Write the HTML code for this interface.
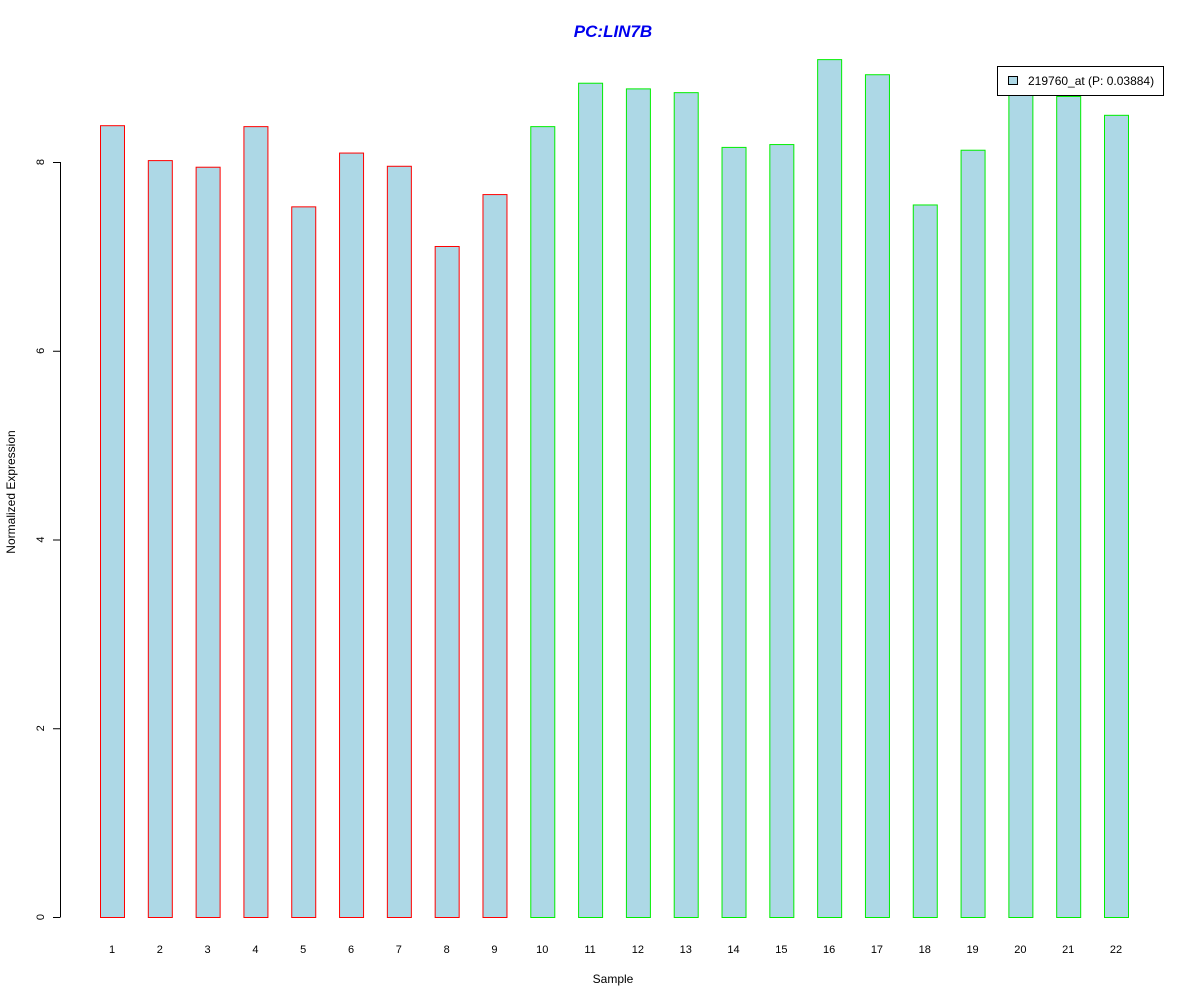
<!DOCTYPE html>
<html><head><meta charset="utf-8"><style>
html,body{margin:0;padding:0;background:#fff;}
svg{display:block;font-family:"Liberation Sans",Arial,sans-serif;}
</style></head><body>
<svg id="chart" width="1200" height="1000" viewBox="0 0 1200 1000">
<text x="613" y="37" text-anchor="middle" font-size="17" font-weight="bold" font-style="italic" fill="#0000ee">PC:LIN7B</text>
<text x="613" y="983" text-anchor="middle" font-size="12">Sample</text>
<text transform="translate(15,492) rotate(-90)" text-anchor="middle" font-size="12">Normalized Expression</text>
<g id="yaxis"></g>
<g id="bars"></g>
<g id="xlabels"></g>
<g>
<rect x="997.5" y="66.5" width="166" height="29" fill="#fff" stroke="#000"/>
<rect x="1008.5" y="76.5" width="9" height="8" fill="#add8e6" stroke="#000"/>
<text x="1028" y="85" font-size="12">219760_at (P: 0.03884)</text>
</g>
</svg>
<script>
const categories = ["1","2","3","4","5","6","7","8","9","10","11","12","13","14","15","16","17","18","19","20","21","22"];
const values = [8.39,8.02,7.95,8.38,7.53,8.10,7.96,7.11,7.66,8.38,8.84,8.78,8.74,8.16,8.19,9.09,8.93,7.55,8.13,8.80,8.70,8.50];
const groups = ["a","a","a","a","a","a","a","a","a","b","b","b","b","b","b","b","b","b","b","b","b","b"];
const yTicks = [0,2,4,6,8];
const NS = "http://www.w3.org/2000/svg";
const y = v => 917 - v * 94.375;
const x = i => 112 + i * (1116 - 112) / 21;
function mk(tag, attrs, parent){const e=document.createElementNS(NS,tag);for(const k in attrs)e.setAttribute(k,attrs[k]);parent.appendChild(e);return e;}
const ya = document.getElementById("yaxis");
let al = mk("line",{x1:60.5,x2:60.5,y1:y(0),y2:y(8),stroke:"#000"},ya);


yTicks.forEach(t=>{
  const l = mk("line",{x1:53,x2:60.5,y1:y(t)+0.5,y2:y(t)+0.5,stroke:"#000"},ya);
  
  
  const tx = mk("text",{transform:`translate(44,${y(t)}) rotate(-90)`,"text-anchor":"middle","font-size":"11"},ya);
  tx.textContent = t;
  
  
});
const bg = document.getElementById("bars"), xg = document.getElementById("xlabels");
values.forEach((v,i)=>{
  const r = mk("rect",{x:x(i)-11.5,y:y(v)+0.5,width:24,height:y(0)-y(v),fill:"#add8e6",stroke:groups[i]==="a"?"#ff0000":"#00ee00"},bg);
  
  
  const t = mk("text",{x:x(i),y:953,"text-anchor":"middle","font-size":"11"},xg);
  t.textContent = categories[i];
  
  
});
</script>
</body></html>
